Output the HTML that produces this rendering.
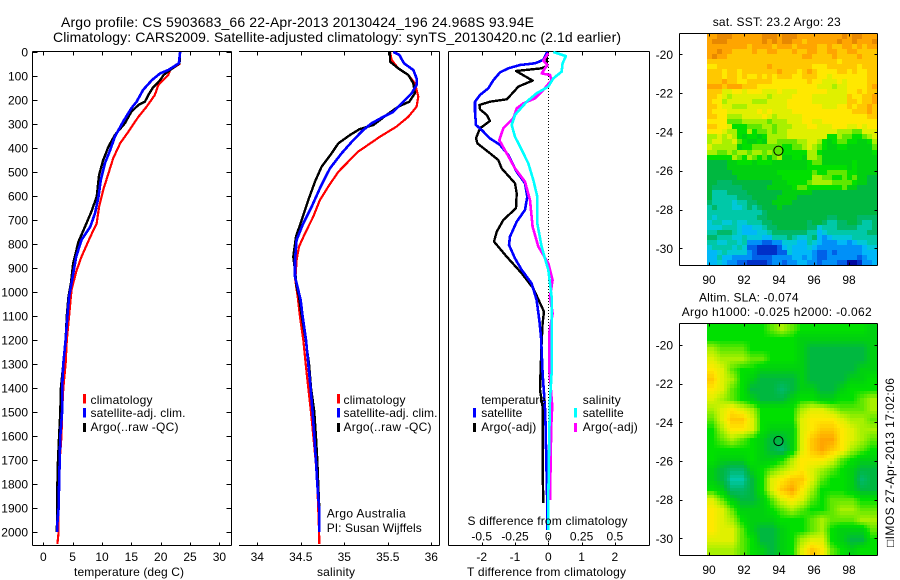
<!DOCTYPE html>
<html>
<head>
<meta charset="utf-8">
<title>Argo profile</title>
<style>
html,body{margin:0;padding:0;background:#fff;}
svg{display:block;font-family:"Liberation Sans",sans-serif;font-size:12px;fill:#000;}
text{fill:#000;}
</style>
</head>
<body>
<svg id="fig" xmlns="http://www.w3.org/2000/svg" width="900" height="580" viewBox="0 0 900 580">
<rect x="0" y="0" width="900" height="580" fill="#fff"/>
<text x="61" y="27" font-size="14" textLength="473" lengthAdjust="spacing">Argo profile: CS 5903683_66 22-Apr-2013 20130424_196 24.968S 93.94E</text>
<text x="53" y="42" font-size="14" textLength="568" lengthAdjust="spacing">Climatology: CARS2009. Satellite-adjusted climatology: synTS_20130420.nc (2.1d earlier)</text>
<g id="layer-plots"></g>

<text x="74" y="576" textLength="110" lengthAdjust="spacing">temperature (deg C)</text>
<text x="317" y="576" textLength="38" lengthAdjust="spacing">salinity</text>
<text x="467" y="576" textLength="159" lengthAdjust="spacing">T difference from climatology</text>
<text x="467.5" y="525" textLength="160" lengthAdjust="spacing">S difference from climatology</text>

<g>
<rect x="83" y="394" width="3" height="9.5" fill="#f00"/>
<rect x="83" y="408" width="3" height="9.5" fill="#00f"/>
<rect x="83" y="423" width="3" height="9" fill="#000"/>
<text x="90.5" y="404" textLength="62" lengthAdjust="spacing">climatology</text>
<text x="90.5" y="417" textLength="95" lengthAdjust="spacing">satellite-adj. clim.</text>
<text x="90.5" y="431" textLength="88" lengthAdjust="spacing">Argo(..raw -QC)</text>
</g>
<g>
<rect x="337" y="394" width="3" height="9.5" fill="#f00"/>
<rect x="337" y="408" width="3" height="9.5" fill="#00f"/>
<rect x="337" y="423" width="3" height="9" fill="#000"/>
<text x="343.5" y="404" textLength="62" lengthAdjust="spacing">climatology</text>
<text x="343.5" y="417" textLength="94" lengthAdjust="spacing">satellite-adj. clim.</text>
<text x="343.5" y="431" textLength="88" lengthAdjust="spacing">Argo(..raw -QC)</text>
<text x="326.7" y="517.5" textLength="79" lengthAdjust="spacing">Argo Australia</text>
<text x="326.7" y="532" textLength="95" lengthAdjust="spacing">PI: Susan Wijffels</text>
</g>
<g>
<text x="481.3" y="404">temperature</text>
<rect x="473" y="408" width="3" height="9.5" fill="#00f"/>
<text x="481.3" y="417" textLength="41" lengthAdjust="spacing">satellite</text>
<rect x="473" y="423" width="3" height="9" fill="#000"/>
<text x="481.3" y="431" textLength="55" lengthAdjust="spacing">Argo(-adj)</text>
<text x="582.7" y="404" textLength="38" lengthAdjust="spacing">salinity</text>
<rect x="574" y="408" width="3" height="9.5" fill="#0ff"/>
<text x="582.7" y="417" textLength="41" lengthAdjust="spacing">satellite</text>
<rect x="574" y="423" width="3" height="9" fill="#f0f"/>
<text x="582.7" y="431" textLength="55" lengthAdjust="spacing">Argo(-adj)</text>
</g>

<text x="712.7" y="26" textLength="128" lengthAdjust="spacing">sat. SST: 23.2 Argo: 23</text>
<text x="699" y="301.5" textLength="99.5" lengthAdjust="spacing">Altim. SLA: -0.074</text>
<text x="681.7" y="316" textLength="190" lengthAdjust="spacing">Argo h1000: -0.025 h2000: -0.062</text>
<text transform="translate(894,547) rotate(-90)" textLength="169" lengthAdjust="spacing">&#9633;IMOS 27-Apr-2013 17:02:06</text>
</svg>

<script>
// ---------- profile data (depth in dbar) ----------
const tempClimDepth = [0,50,75,96,137,179,228,270,332,380,443,505,575,644,714,770,853,915,992,1100,1200,1300,1400,1500,1600,1700,1800,1900,2000,2050];
const tempClimValue = [23.3,23.2,21.6,21.3,19.6,19.0,17.6,16.2,14.5,13.1,11.9,11.1,10.2,9.5,9.1,8.0,6.5,5.6,4.8,4.4,4.0,3.8,3.4,3.2,3.1,2.8,2.7,2.6,2.6,2.4];
const tempArgoDepth = [0,47,75,96,117,151,179,207,221,249,297,346,394,450,512,603,665,728,790,880,964,1019,1100,1200,1300,1400,1500,1600,1700,1800,1900,2000];
const tempArgoValue = [23.3,23.2,21.6,20.5,19.9,18.6,17.9,17.3,16.2,15.0,13.9,12.2,11.1,10.2,9.5,9.1,8.2,7.1,6.0,5.1,4.7,4.3,4.0,3.8,3.4,3.0,2.9,2.7,2.5,2.4,2.4,2.3];
const tempSatDepth = [0,47,75,89,117,158,207,235,290,353,408,464,533,603,672,728,783,853,936,1019,1100,1200,1300,1400,1500,1600,1700,1800,1900,1960,2000];
const tempSatValue = [23.3,23.1,21.3,19.9,18.5,17.0,15.9,15.0,13.6,12.2,11.4,10.5,9.8,9.4,8.8,8.0,6.5,5.6,5.0,4.4,4.1,3.8,3.4,3.2,3.2,2.9,2.8,2.7,2.6,2.4,2.4];

const salClimDepth = [0,33,68,96,130,186,228,270,311,353,415,499,561,617,686,756,811,867,950,1019,1100,1200,1300,1400,1500,1600,1700,1800,1900,2000,2050];
const salClimValue = [35.525,35.544,35.62,35.736,35.812,35.851,35.831,35.736,35.60,35.41,35.16,34.931,34.816,34.72,34.644,34.548,34.479,34.452,34.437,34.464,34.49,34.529,34.556,34.586,34.617,34.644,34.67,34.69,34.70,34.71,34.713];
const salArgoDepth = [0,40,68,96,130,172,207,228,262,304,322,346,381,422,478,540,617,700,769,853,908,978,1019,1100,1200,1300,1400,1500,1600,1700,1800,1900,2000];
const salArgoValue = [35.525,35.525,35.62,35.736,35.793,35.812,35.747,35.62,35.487,35.333,35.172,35.065,34.931,34.854,34.739,34.663,34.586,34.51,34.445,34.414,34.433,34.452,34.479,34.51,34.556,34.594,34.617,34.655,34.674,34.69,34.70,34.713,34.713];
const salSatDepth = [0,12,47,75,110,137,172,207,249,270,297,325,367,422,485,568,644,714,783,867,936,992,1033,1100,1200,1300,1400,1500,1600,1700,1800,1900,2000];
const salSatValue = [35.563,35.632,35.686,35.793,35.831,35.831,35.774,35.678,35.563,35.448,35.314,35.218,35.103,34.969,34.835,34.72,34.625,34.529,34.452,34.433,34.433,34.471,34.498,34.521,34.56,34.586,34.613,34.636,34.655,34.674,34.69,34.71,34.713];

const diffTSatDepth = [0,33,47,54,68,85,117,151,179,207,249,304,325,360,387,429,499,547,603,658,707,769,804,860,908,964,1033,1117,1186,1242,1339,1422,1506,1644,1756,1894,1992];
const diffTSatValue = [-0.03,-0.15,-0.4,-0.85,-1.2,-1.45,-1.65,-1.8,-2.05,-2.2,-2.2,-2.17,-2.0,-1.75,-1.45,-1.2,-0.95,-0.7,-0.63,-0.7,-0.95,-1.15,-1.18,-1.0,-0.8,-0.5,-0.35,-0.27,-0.22,-0.2,-0.17,-0.13,-0.09,-0.07,-0.05,-0.03,-0.03];
const diffTArgoDepth = [0,33,58,68,79,119,144,165,197,207,221,239,262,287,318,360,381,422,450,485,547,589,651,700,749,790,853,922,985,1082,1131,1214,1325,1408,1478,1728,1880];
const diffTArgoValue = [-0.03,-0.05,-0.03,-0.2,-0.97,-0.47,-0.9,-1.03,-1.25,-1.75,-2.07,-2.05,-1.85,-1.75,-2.05,-2.17,-2.13,-1.75,-1.5,-1.4,-1.0,-0.95,-0.97,-1.35,-1.55,-1.63,-1.25,-0.8,-0.45,-0.13,-0.17,-0.2,-0.23,-0.25,-0.17,-0.17,-0.15];
const diffSSatDepth = [0,17,47,82,110,144,172,207,262,304,353,408,464,533,603,714,811,908,1019,1172,1339,1450,1589,1867,1992];
const diffSSatValue = [0.0375,0.1325,0.1075,0.1,0.0375,0,-0.0875,-0.1625,-0.25,-0.275,-0.25,-0.2,-0.15,-0.1125,-0.0825,-0.0825,-0.05,0,0.025,0.025,0.025,0.0125,0.0075,0,0];
const diffSArgoDepth = [5,36,54,89,96,117,158,193,214,235,276,318,367,422,485,540,617,728,811,880,950,1019,1089,1172,1325,1478,1519,1617,1867];
const diffSArgoValue = [0,-0.0375,-0.0075,-0.05,0.0125,0.025,-0.0375,-0.1,-0.1875,-0.2375,-0.2625,-0.3375,-0.3675,-0.3125,-0.25,-0.175,-0.1375,-0.1175,-0.075,0,0.0325,0.0125,0.0325,0.0075,0.0075,0.03,0.025,0.02,0.0125];

// ---------- tick labels ----------
const depthTicks = [0,100,200,300,400,500,600,700,800,900,1000,1100,1200,1300,1400,1500,1600,1700,1800,1900,2000];
const tempTicks = [0,5,10,15,20,25,30];
const salTicks = [34,34.5,35,35.5,36];
const diffTTicks = [-2,-1,0,1,2];
const diffSTicks = [-0.5,-0.25,0,0.25,0.5];
const lonTicks = [90,92,94,96,98];
const latTicks = [-20,-22,-24,-26,-28,-30];

// ---------- map values: colour-scale levels, 0 = coldest/lowest, 17 = warmest/highest ----------
const profileLon = 93.94;
const profileLat = -24.968;
const sstLevels = [
[16,16,17,17,17,16,16,16,16,16,16,17,17,17,16,17,17,17,16,16,16,16,16,16,16,16,16,17,16,17,17,16,16,16],
[16,17,17,17,16,16,16,16,16,16,16,17,16,17,16,17,17,16,16,15,16,16,16,16,16,16,17,16,16,17,16,16,16,17],
[16,16,16,16,16,16,16,16,15,16,16,16,16,15,16,16,16,15,16,16,16,16,15,15,16,15,15,16,16,15,16,15,16,16],
[16,16,17,16,16,15,15,15,15,16,15,15,16,16,15,15,15,16,15,15,16,16,15,15,16,16,15,15,16,16,15,15,15,15],
[16,17,16,16,15,15,15,15,15,15,15,15,15,15,15,15,15,15,15,16,16,15,15,15,15,16,15,15,15,15,16,15,15,15],
[15,15,15,15,15,15,15,15,15,15,15,15,15,15,15,15,15,15,15,15,15,15,15,15,15,15,14,15,15,15,15,15,15,15],
[14,14,15,15,15,15,15,15,15,15,15,15,16,15,15,15,15,15,15,15,15,14,14,14,15,15,15,15,15,15,14,15,15,15],
[15,15,15,14,15,15,14,15,15,15,15,15,15,15,16,15,15,15,14,15,16,15,14,14,14,14,15,15,14,15,14,14,15,15],
[15,15,15,14,15,15,14,15,14,14,15,14,15,14,15,15,15,14,14,15,15,15,14,14,13,14,14,14,14,14,14,14,15,15],
[15,15,15,16,15,15,14,14,15,15,15,15,15,14,14,14,14,14,14,14,15,14,14,13,13,13,14,13,14,14,14,14,15,15],
[16,16,16,15,16,16,16,15,15,15,14,14,14,14,14,14,14,14,14,14,14,14,13,13,13,12,13,13,14,14,14,14,15,16],
[15,15,15,13,13,14,14,13,14,14,14,13,13,13,14,13,13,13,14,14,14,14,14,14,13,13,13,13,14,14,15,14,15,15],
[15,15,14,13,12,13,13,13,13,13,13,13,12,13,13,13,13,14,14,14,14,13,13,13,13,13,13,13,15,14,14,15,15,16],
[15,14,14,12,13,13,13,13,13,12,12,12,13,13,13,13,14,14,14,14,14,13,13,13,13,13,13,13,15,15,14,15,15,16],
[15,15,14,13,13,12,12,12,13,13,13,13,13,13,13,13,14,14,14,14,14,14,14,13,13,13,14,14,15,14,15,15,16,15],
[15,14,14,14,13,13,13,13,13,13,14,13,14,13,13,13,13,14,14,14,14,14,14,14,14,14,14,14,14,15,15,15,16,15],
[15,15,14,14,12,12,12,13,13,13,13,14,13,12,13,13,13,13,13,14,14,14,14,14,14,14,14,14,14,14,14,14,15,15],
[14,14,14,14,11,11,11,12,12,12,12,12,11,12,12,12,13,13,13,14,14,13,13,14,14,14,14,14,14,14,14,14,14,14],
[15,15,14,14,13,10,10,10,11,11,11,12,12,11,12,12,12,13,13,13,14,14,13,13,13,14,14,14,13,13,14,13,14,14],
[14,14,14,13,12,12,10,10,12,10,11,11,12,11,12,12,13,13,13,13,13,13,13,13,13,13,12,12,12,11,11,13,13,13],
[12,12,13,12,13,12,10,9,10,10,9,10,12,12,12,12,13,13,13,13,13,13,13,13,10,10,12,11,11,10,10,11,12,13],
[12,13,13,12,12,13,11,10,9,9,10,9,12,12,11,11,11,11,12,12,13,13,12,10,9,10,11,11,10,10,9,9,10,12],
[13,12,12,12,12,12,9,10,10,11,11,11,11,11,11,10,10,11,11,12,13,12,11,10,9,9,10,10,9,9,9,9,9,11],
[12,12,11,11,12,11,12,12,11,12,12,11,12,11,11,10,10,10,10,10,12,12,10,9,9,9,9,9,9,9,9,9,9,10],
[10,10,10,10,10,12,11,10,12,11,10,11,9,11,12,9,9,10,10,9,12,12,11,9,9,9,9,9,9,9,9,9,9,9],
[8,8,8,8,9,9,10,10,10,9,10,10,10,9,9,9,9,9,9,9,10,11,11,9,9,9,9,9,9,10,9,9,9,9],
[8,8,8,8,9,9,9,9,9,9,9,9,9,9,9,9,9,9,9,9,10,10,10,10,10,10,10,10,9,10,9,9,9,9],
[8,8,8,8,8,9,9,9,9,9,9,9,9,9,10,10,10,10,10,10,10,11,10,10,11,11,11,11,10,10,9,9,9,9],
[8,8,8,8,8,8,9,9,9,9,9,9,9,9,9,10,10,10,10,10,10,12,12,11,11,10,10,11,10,11,9,9,8,8],
[8,8,7,7,7,8,8,8,8,8,8,8,8,9,9,9,10,10,10,10,11,12,12,12,12,11,11,11,11,10,9,9,8,8],
[8,7,7,7,7,7,7,8,8,8,8,8,9,9,9,9,9,10,11,11,10,10,10,10,10,10,10,11,9,9,8,8,8,8],
[8,6,6,6,7,7,7,7,8,8,8,8,8,8,8,9,9,9,9,9,9,8,8,8,8,8,8,8,8,8,8,8,8,8],
[8,6,6,6,6,6,7,7,7,8,8,8,8,8,9,9,9,9,8,8,8,8,8,8,8,8,8,8,8,8,8,8,8,8],
[7,6,6,6,6,5,6,6,7,7,8,8,8,9,9,9,9,8,8,8,8,8,8,8,8,8,8,8,8,8,8,8,8,8],
[6,7,6,6,6,5,5,6,7,6,7,8,8,8,9,8,8,8,8,8,8,8,8,8,8,8,8,8,8,8,8,8,8,8],
[6,6,6,6,6,6,6,6,6,6,6,7,8,8,8,8,8,8,8,8,8,8,8,8,8,8,8,8,8,8,8,8,8,8],
[6,5,6,6,6,6,6,6,6,6,7,7,8,8,8,8,8,8,8,8,8,8,8,8,7,7,8,8,8,8,7,7,7,7],
[5,6,6,5,5,6,5,5,6,6,6,7,7,8,8,8,8,8,8,8,7,8,8,7,6,6,7,7,8,8,7,6,6,7],
[5,5,5,6,6,6,5,4,4,5,5,6,7,7,8,8,8,8,8,8,7,7,5,6,6,6,7,7,7,7,6,6,6,7],
[6,6,7,7,7,6,5,4,4,4,5,5,6,7,7,7,7,7,7,7,6,6,4,5,6,6,6,6,6,6,6,6,7,7],
[7,7,6,6,6,5,5,6,5,5,5,4,4,6,6,6,7,6,5,5,6,7,4,3,4,5,5,5,5,6,6,6,6,6],
[6,6,5,5,6,6,5,6,3,3,3,2,2,3,3,5,5,5,4,4,6,5,4,3,3,3,4,4,3,4,5,5,6,6],
[5,6,6,6,6,5,6,5,2,2,1,1,1,1,2,4,5,4,4,4,5,4,3,3,3,3,3,3,3,3,3,4,5,5],
[4,4,5,6,5,5,5,5,3,2,1,1,1,1,2,2,5,4,4,4,4,3,2,2,3,2,3,3,3,3,3,4,4,4],
[4,4,6,4,4,3,3,3,3,2,2,2,2,3,3,3,3,4,4,3,4,3,2,2,3,3,3,3,3,3,2,3,4,4],
[4,4,5,4,3,3,2,2,1,1,1,1,2,3,3,2,3,3,4,4,3,3,2,3,3,3,2,2,0,0,1,3,3,4]
];
const slaLevels = [
[10,10,10,10,10,10,11,12,11,10,10,10,10,10,10,10,9],
[10,10,10,10,10,10,10,10,10,9,9,9,9,9,9,9,9],
[12,11,11,11,10,10,10,10,10,9,8,8,8,8,8,8,9],
[13,12,12,12,11,11,10,10,10,9,8,8,8,8,8,8,9],
[14,13,11,10,10,9,9,9,9,9,8,8,8,8,8,9,9],
[15,13,12,10,9,8,8,8,8,9,8,8,8,8,9,9,10],
[14,13,11,10,8,8,8,7,8,9,9,8,8,9,10,10,10],
[13,12,11,10,9,8,8,8,9,10,10,9,9,10,10,11,12],
[12,13,14,13,12,10,10,10,10,12,13,13,12,11,11,11,12],
[11,13,15,15,13,10,10,10,10,13,14,14,14,13,12,12,11],
[10,12,14,14,13,10,9,9,9,13,14,15,15,14,13,12,12],
[10,11,12,11,10,9,8,8,9,13,15,16,16,14,13,12,11],
[10,10,10,10,10,9,8,7,9,13,15,16,15,14,12,11,10],
[10,9,9,9,10,9,9,10,12,14,14,14,13,11,10,9,9],
[9,8,7,7,9,10,11,12,13,14,13,12,11,10,9,8,8],
[9,8,6,6,8,10,13,14,15,15,13,11,10,10,9,7,8],
[10,9,7,7,8,10,13,15,16,14,12,10,10,10,9,8,8],
[13,11,9,8,8,9,11,13,14,13,11,10,11,11,11,10,10],
[14,13,11,9,9,9,10,11,12,11,10,10,11,12,12,11,11],
[14,13,12,10,9,9,9,10,10,10,11,12,11,11,11,12,12],
[14,13,13,11,9,8,8,9,10,10,11,12,10,9,9,9,11],
[13,13,13,11,10,8,8,9,10,12,13,13,10,9,8,8,10],
[12,12,12,11,10,9,8,9,10,13,15,14,11,10,9,10,10]
];
const levelColors = ['#0008a0','#0030c8','#0060e8','#0090f8','#00b8f8','#00c8d8','#00c8a8','#00b868','#00b840','#00d010','#00e000','#60e800','#a8f000','#e0f000','#ffe800','#ffc800','#ffa500','#e88800'];

// ---------- layout ----------
const svgNS = 'http://www.w3.org/2000/svg';
const layer = document.getElementById('layer-plots');
const PANEL_TOP = 51.5, PANEL_BOTTOM = 545.5;
function yDepth(d){ return 52 + 0.24 * d; }
function xTemp(t){ return 43.3 + 5.87 * t; }
function xSal(s){ return 257.3 + 87 * (s - 34); }
function xDiffT(t){ return 548.3 + 33.3 * t; }
function xDiffS(s){ return 548.3 + 133.2 * s; }

function svgEl(tag, attrs){
  const el = document.createElementNS(svgNS, tag);
  for (const k in attrs) el.setAttribute(k, attrs[k]);
  layer.appendChild(el);
  return el;
}
function rule(x1,y1,x2,y2,name){
  const el = svgEl('line',{x1:x1,y1:y1,x2:x2,y2:y2,stroke:'#000','stroke-width':1,'shape-rendering':'crispEdges'});
  
  
  return el;
}
function label(x,y,str,anchor,name){
  const el = svgEl('text',{x:x,y:y,'text-anchor':anchor});
  el.textContent = str;
  
  
  return el;
}
function profile(depths,values,xf,color,width,name){
  const pts = depths.map(function(d,i){ return xf(values[i]).toFixed(1)+','+yDepth(d).toFixed(1); }).join(' ');
  const el = svgEl('polyline',{points:pts,fill:'none',stroke:color,'stroke-width':width,'stroke-linejoin':'round','shape-rendering':'crispEdges'});
  
  
  return el;
}

// ---------- temperature panel ----------
rule(32.5,PANEL_TOP,231.5,PANEL_TOP,'temperature-top-spine');
rule(32.5,PANEL_BOTTOM,231.5,PANEL_BOTTOM,'temperature-bottom-spine');
rule(32.5,PANEL_TOP,32.5,PANEL_BOTTOM,'temperature-left-spine');
rule(231.5,PANEL_TOP,231.5,PANEL_BOTTOM,'temperature-right-spine');
depthTicks.forEach(function(d){
  const y = Math.round(yDepth(d)) + 0.5;
  rule(32.5,y,37.5,y,'depth-tick-left');
  rule(226.5,y,231.5,y,'depth-tick-right');
  label(28,yDepth(d)+4.5,String(d),'end','depth-tick-label');
});
tempTicks.forEach(function(t){
  const x = Math.round(xTemp(t)) + 0.5;
  rule(x,PANEL_TOP,x,PANEL_TOP+4,'temperature-tick-top');
  rule(x,PANEL_BOTTOM-3,x,PANEL_BOTTOM,'temperature-tick-bottom');
  label(xTemp(t),561,String(t),'middle','temperature-tick-label');
});
profile(tempClimDepth,tempClimValue,xTemp,'#f00',2.2,'temperature-climatology-line');
profile(tempArgoDepth,tempArgoValue,xTemp,'#000',2.4,'temperature-argo-line');
profile(tempSatDepth,tempSatValue,xTemp,'#00f',2.6,'temperature-satellite-line');

// ---------- salinity panel ----------
rule(239,PANEL_TOP,439.5,PANEL_TOP,'salinity-top-spine');
rule(239,PANEL_BOTTOM,439.5,PANEL_BOTTOM,'salinity-bottom-spine');
rule(439.5,PANEL_TOP,439.5,PANEL_BOTTOM,'salinity-right-spine');
salTicks.forEach(function(s){
  const x = Math.round(xSal(s)) + 0.5;
  rule(x,PANEL_TOP,x,PANEL_TOP+4,'salinity-tick-top');
  rule(x,PANEL_BOTTOM-3,x,PANEL_BOTTOM,'salinity-tick-bottom');
  label(xSal(s),561,String(s),'middle','salinity-tick-label');
});
profile(salClimDepth,salClimValue,xSal,'#f00',2.2,'salinity-climatology-line');
profile(salArgoDepth,salArgoValue,xSal,'#000',2.4,'salinity-argo-line');
profile(salSatDepth,salSatValue,xSal,'#00f',2.6,'salinity-satellite-line');

// ---------- difference panel ----------
rule(448.5,PANEL_TOP,649.5,PANEL_TOP,'difference-top-spine');
rule(448.5,PANEL_BOTTOM,649.5,PANEL_BOTTOM,'difference-bottom-spine');
rule(448.5,PANEL_TOP,448.5,PANEL_BOTTOM,'difference-left-spine');
rule(649.5,PANEL_TOP,649.5,PANEL_BOTTOM,'difference-right-spine');
diffTTicks.forEach(function(t){
  const x = Math.round(xDiffT(t)) + 0.5;
  rule(x,PANEL_TOP,x,PANEL_TOP+4,'t-difference-tick-top');
  rule(x,PANEL_BOTTOM-3,x,PANEL_BOTTOM,'t-difference-tick-bottom');
  label(xDiffT(t),561,String(t),'middle','t-difference-tick-label');
});
diffSTicks.forEach(function(s){
  label(xDiffS(s),540.5,String(s),'middle','s-difference-tick-label');
});
const zeroLine = svgEl('line',{x1:548.5,y1:52,x2:548.5,y2:545,stroke:'#000','stroke-width':1,'stroke-dasharray':'1 2','shape-rendering':'crispEdges'});


profile(diffTArgoDepth,diffTArgoValue,xDiffT,'#000',2.4,'t-difference-argo-line');
profile(diffTSatDepth,diffTSatValue,xDiffT,'#00f',2.6,'t-difference-satellite-line');
profile(diffSArgoDepth,diffSArgoValue,xDiffS,'#f0f',2.6,'s-difference-argo-line');
profile(diffSSatDepth,diffSSatValue,xDiffS,'#0ff',2.6,'s-difference-satellite-line');

// ---------- maps ----------
function levelColor(v){
  const i = Math.max(0, Math.min(levelColors.length - 2, Math.floor(v)));
  const f = Math.max(0, Math.min(1, v - i));
  const a = levelColors[i], b = levelColors[i + 1];
  let out = '#';
  for (let k = 1; k < 7; k += 2) {
    const ca = parseInt(a.substr(k, 2), 16), cb = parseInt(b.substr(k, 2), 16);
    const c = Math.round(ca + (cb - ca) * f);
    out += (c < 16 ? '0' : '') + c.toString(16);
  }
  return out;
}
// Resample a coarse grid onto the finer display cells, so the smooth field renders as in the figure.
function sampleGrid(levels,u,v){
  const rows = levels.length, cols = levels[0].length;
  const cu = Math.max(0, Math.min(cols - 1, u)), cv = Math.max(0, Math.min(rows - 1, v));
  const c0 = Math.floor(cu), r0 = Math.floor(cv);
  const c1 = Math.min(cols - 1, c0 + 1), r1 = Math.min(rows - 1, r0 + 1);
  const fu = cu - c0, fv = cv - r0;
  const top = levels[r0][c0] * (1 - fu) + levels[r0][c1] * fu;
  const bot = levels[r1][c0] * (1 - fu) + levels[r1][c1] * fu;
  return top * (1 - fv) + bot * fv;
}
function drawMap(levels,subdiv,top,bottom,yMinus20,yPerDeg,prefix){
  const left = 679.5, right = 877.5, imgL = 707, imgR = 877;
  const lonX = function(lon){ return 709 + 17.5 * (lon - 90); };
  const latY = function(lat){ return yMinus20 + yPerDeg * (-20 - lat); };
  const rows = levels.length * subdiv, cols = levels[0].length * subdiv;
  const cw = (imgR - imgL) / cols, ch = (bottom - top) / rows;
  for (let r = 0; r < rows; r++) {
    for (let c = 0; c < cols; c++) {
      const v = sampleGrid(levels, (c + 0.5) / subdiv - 0.5, (r + 0.5) / subdiv - 0.5);
      const x0 = Math.round(imgL + c * cw), x1 = Math.round(imgL + (c + 1) * cw);
      const y0 = Math.round(top + r * ch), y1 = Math.round(top + (r + 1) * ch);
      const cell = svgEl('rect',{x:x0,y:y0,width:x1-x0,height:y1-y0,fill:levelColor(v),'shape-rendering':'crispEdges'});
      
      
    }
  }
  rule(left,top-0.5,right,top-0.5,prefix + '-top-spine');
  rule(left,bottom+0.5,right,bottom+0.5,prefix + '-bottom-spine');
  rule(left,top-0.5,left,bottom+0.5,prefix + '-left-spine');
  rule(right,top-0.5,right,bottom+0.5,prefix + '-right-spine');
  lonTicks.forEach(function(lon){
    const x = Math.round(lonX(lon)) + 0.5;
    rule(x,top-0.5,x,top+2.5,prefix + '-longitude-tick-top');
    rule(x,bottom-2.5,x,bottom+0.5,prefix + '-longitude-tick-bottom');
    label(lonX(lon),bottom+19,String(lon),'middle',prefix + '-longitude-label');
  });
  latTicks.forEach(function(lat){
    const y = Math.round(latY(lat)) + 0.5;
    rule(left,y,left+3,y,prefix + '-latitude-tick-left');
    rule(right-3,y,right,y,prefix + '-latitude-tick-right');
    label(673,latY(lat)+4.5,String(lat),'end',prefix + '-latitude-label');
  });
  const marker = svgEl('circle',{cx:lonX(profileLon)+0.5,cy:latY(profileLat),r:4.6,fill:'none',stroke:'#000','stroke-width':1});
  
  
}
drawMap(sstLevels,1,34,265,54.3,19.4,'sst-map');
drawMap(slaLevels,3,324,555,345,19.33,'sla-map');
</script>
</body>
</html>
